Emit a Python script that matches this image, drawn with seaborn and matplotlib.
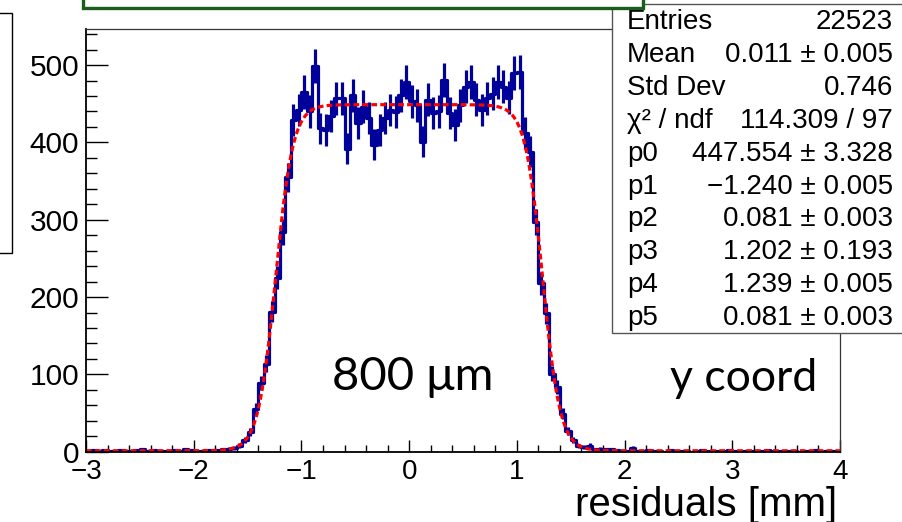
import numpy as np
import pandas as pd
import matplotlib
matplotlib.use("Agg")
import matplotlib.pyplot as plt
from matplotlib.patches import Rectangle
from matplotlib.ticker import MultipleLocator
import seaborn as sns

# ---------------- data ----------------
x_range = (-3.0, 4.0)
bin_width = 0.05
counts = [
    1, 2, 1, 2, 1, 1, 2, 1, 1, 2, 3, 1, 2, 1, 1, 1, 2, 1, 3, 2, 1, 1, 2, 1, 2, 3, 4, 5,
    8, 15, 26, 55, 89, 114, 181, 225, 284, 355,
    429, 442, 465, 440, 499, 418, 416, 434, 457, 457,
    392, 461, 425, 446, 432, 397, 416, 431, 442, 439,
    461, 478, 453, 448, 401, 455, 438, 440, 481, 438,
    422, 448, 472, 478, 455, 442, 457, 463, 478, 472,
    458, 490, 491, 412, 388, 297, 218, 179, 101, 84,
    49, 27, 15, 7, 6, 8, 3, 4, 3, 3,
    2, 1, 1, 5, 1, 1, 2, 1, 1, 0, 2, 1, 1, 1, 0, 1, 2, 1, 0, 1,
    1, 2, 1, 0, 1, 1, 0, 1, 2, 1, 1, 0, 1, 1, 0, 1, 1, 2, 0, 1, 1, 1,
]
# fit parameters p0..p5 (plateau, left edge, left width, background, right edge, right width)
fit_params = [447.554, -1.240, 0.081, 1.202, 1.239, 0.081]

stat_labels = ["Entries", "Mean", "Std Dev", "χ² / ndf", "p0", "p1", "p2", "p3", "p4", "p5"]
stat_values = ["22523", "0.011 ± 0.005", "0.746", "114.309 / 97", "447.554 ± 3.328",
               "\u22121.240 ± 0.005", "0.081 ± 0.003", "1.202 ± 0.193",
               "1.239 ± 0.005", "0.081 ± 0.003"]
x_ticks = [-3, -2, -1, 0, 1, 2, 3, 4]
y_ticks = [0, 100, 200, 300, 400, 500]
x_label = "residuals [mm]"
note_left = "800 \u03bcm"
note_right = "y coord"

# ---------------- style ----------------
sns.set_style("ticks")
plt.rcParams["font.family"] = ["Liberation Sans", "DejaVu Sans"]
plt.rcParams["axes.unicode_minus"] = True
plt.rcParams["text.color"] = "black"
plt.rcParams["xtick.color"] = "black"
plt.rcParams["ytick.color"] = "black"
plt.rcParams["xtick.labelcolor"] = "black"
plt.rcParams["ytick.labelcolor"] = "black"

W, H = 902, 522
fig = plt.figure(figsize=(W / 100, H / 100), dpi=100)
ax = fig.add_axes([86 / W, 1 - 451.7 / H, (840 - 86) / W, (451.7 - 29) / H])
ax.set_facecolor("white")
fig.patch.set_facecolor("white")

n_bins = len(counts)
edges = x_range[0] + bin_width * np.arange(n_bins + 1)
centers = 0.5 * (edges[:-1] + edges[1:])
cnt = np.array(counts, dtype=float)
df = pd.DataFrame({"x": centers, "w": cnt})

hist_color = "#00009a"
sns.histplot(data=df, x="x", weights="w", binwidth=bin_width, binrange=x_range,
             element="step", fill=False, color=hist_color, linewidth=2.3, ax=ax)
err = np.sqrt(cnt)
ax.vlines(centers, cnt - err, cnt + err, color=hist_color, linewidth=2.3)

# fit curve
p0, p1, p2, p3, p4, p5 = fit_params
xf = np.linspace(x_range[0], x_range[1], 1400)
yf = p0 / ((1 + np.exp(-(xf - p1) / p2)) * (1 + np.exp((xf - p4) / p5))) + p3
sns.lineplot(x=xf, y=yf, color="#ff0000", linewidth=2.3, ax=ax)
ax.lines[-1].set_dashes((1.8, 1.0))

ax.set_xlim(*x_range)
ax.set_ylim(0, 546.6)
ax.set_xlabel("")
ax.set_ylabel("")
ax.set_xticks(x_ticks)
ax.set_yticks(y_ticks)
ax.xaxis.set_minor_locator(MultipleLocator(0.2))
ax.yaxis.set_minor_locator(MultipleLocator(20))
ax.tick_params(axis="y", which="major", direction="in", length=15.8, width=1.0,
               labelsize=21.5, pad=5, left=True, right=False, color="black")
ax.tick_params(axis="y", which="minor", direction="in", length=7.9, width=1.0,
               left=True, right=False, color="black")
ax.tick_params(axis="x", which="major", direction="in", length=8.9, width=1.0,
               labelsize=20, pad=5, bottom=True, top=False, color="black")
ax.tick_params(axis="x", which="minor", direction="in", length=4.8, width=1.0,
               bottom=True, top=False, color="black")
for side in ["left", "bottom"]:
    ax.spines[side].set_linewidth(1.3)
    ax.spines[side].set_color("black")
for side in ["top", "right"]:
    ax.spines[side].set_visible(True)
    ax.spines[side].set_linewidth(0.9)
    ax.spines[side].set_color("#333333")

# x label
fig.text(837 / W, 1 - 515.5 / H, x_label, ha="right", va="baseline", fontsize=29)

# annotations
fig.text(332 / W, 1 - 390 / H, note_left, ha="left", va="baseline", fontsize=34,
         family=["Lato", "Noto Sans", "DejaVu Sans"])
fig.text(817 / W, 1 - 391 / H, note_right, ha="right", va="baseline", fontsize=32,
         family=["Lato", "Noto Sans", "DejaVu Sans"])

# partial box on the left
fig.add_artist(Rectangle((-0.1, 1 - 253 / H), 0.1 + 11.7 / W, (253 - 13) / H,
                         transform=fig.transFigure, fill=False, ec="black", lw=1.0, zorder=2))

# stats box
fig.add_artist(Rectangle((612 / W, 1 - 333 / H), 0.5, (333 - 4) / H,
                         transform=fig.transFigure, fc="white", ec="#555555", lw=1.0, zorder=3))
for i, (lab, val) in enumerate(zip(stat_labels, stat_values)):
    yb = 1 - (29 + 32.9 * i) / H
    fig.text(627 / W, yb, lab, ha="left", va="baseline", fontsize=20, zorder=4)
    fig.text(893 / W, yb, val, ha="right", va="baseline", fontsize=20, zorder=4)

# green title box (cut off at top)
fig.add_artist(Rectangle((83 / W, 1 - 8 / H), (643 - 83) / W, 0.2,
                         transform=fig.transFigure, fc="white", ec="#1b5e1b", lw=2.4, zorder=5))

fig.savefig("out.png", dpi=100, facecolor="white")
